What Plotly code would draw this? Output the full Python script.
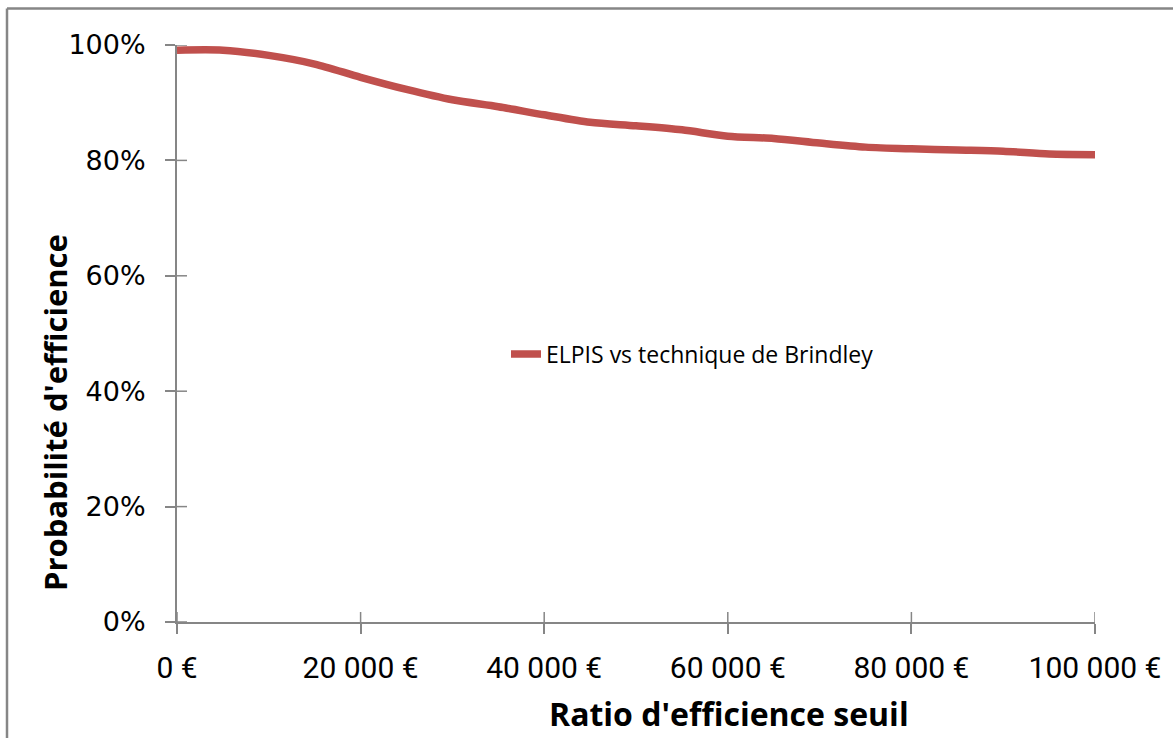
import plotly.graph_objects as go

ratio_seuil = [0, 5000, 10000, 15000, 20000, 25000, 30000, 35000, 40000, 45000, 50000,
               55000, 60000, 65000, 70000, 75000, 80000, 85000, 90000, 95000, 100000]
proba_efficience = [0.991, 0.991, 0.982, 0.967, 0.944, 0.923, 0.905, 0.893, 0.879, 0.866, 0.860,
                    0.853, 0.842, 0.838, 0.830, 0.823, 0.820, 0.818, 0.816, 0.811, 0.810]
series_name = "ELPIS vs technique de Brindley"
x_title = "Ratio d'efficience seuil"
y_title = "Probabilité d'efficience"
x_tick_vals = [0, 20000, 40000, 60000, 80000, 100000]
x_tick_text = ["0 €", "20 000 €", "40 000 €", "60 000 €", "80 000 €", "100 000 €"]
y_tick_vals = [0, 0.2, 0.4, 0.6, 0.8, 1.0]
y_tick_text = ["0%", "20%", "40%", "60%", "80%", "100%"]

W, H = 1173, 738
L, R, T, B = 177, 78, 45, 116
pw, ph = W - L - R, H - T - B
GRAY = "#868686"


def px_x(p):
    return (p - L) / pw


def px_y(p):
    return (H - B - p) / ph


fig = go.Figure()
fig.add_trace(go.Scatter(
    x=ratio_seuil, y=proba_efficience, mode="lines", name=series_name,
    line=dict(color="#C0504D", width=7.5, shape="spline", smoothing=0.8),
    cliponaxis=False,
))

tick_common = dict(showgrid=False, zeroline=False, tickcolor=GRAY, tickwidth=1.5, ticklen=10)

fig.update_layout(
    width=W, height=H,
    margin=dict(l=L, r=R, t=T, b=B, pad=0),
    paper_bgcolor="white", plot_bgcolor="white",
    font=dict(family="Roboto, sans-serif", color="black"),
    xaxis=dict(range=[0, 100000], tickvals=x_tick_vals, ticktext=x_tick_text,
               ticks="outside", tickfont=dict(size=30, family="Roboto, sans-serif"),
               showline=True, linecolor=GRAY, linewidth=2, ticklabelstandoff=8,
               **tick_common),
    yaxis=dict(range=[0, 1], tickvals=y_tick_vals, ticktext=y_tick_text,
               ticks="outside", tickfont=dict(size=27, family="DejaVu Sans, sans-serif"),
               showline=True, linecolor=GRAY, linewidth=2, ticklabelstandoff=14,
               **tick_common),
    showlegend=True,
    legend=dict(x=px_x(506), y=px_y(354), xanchor="left", yanchor="middle",
                bgcolor="rgba(0,0,0,0)", font=dict(size=23, family="Open Sans, sans-serif"),
                tracegroupgap=0),
)

# axis titles (positioned off-centre as in the reference)
fig.add_annotation(text="<b>" + x_title + "</b>", xref="paper", yref="paper",
                   x=px_x(729), y=px_y(737), showarrow=False, xanchor="center", yanchor="bottom",
                   font=dict(size=32, family="Open Sans, sans-serif", color="black"))
fig.add_annotation(text="<b>" + y_title + "</b>", xref="paper", yref="paper",
                   x=px_x(55), y=px_y(412), showarrow=False, xanchor="center", yanchor="middle",
                   textangle=-90, font=dict(size=31, family="Open Sans, sans-serif", color="black"))

# inner half of the crossing tick marks
for v in x_tick_vals:
    fig.add_shape(type="line", xref="x", yref="paper", ysizemode="pixel", yanchor=0,
                  x0=v, x1=v, y0=0, y1=10, line=dict(color=GRAY, width=1.5))
for v in y_tick_vals:
    fig.add_shape(type="line", xref="paper", yref="y", xsizemode="pixel", xanchor=0,
                  x0=0, x1=10, y0=v, y1=v, line=dict(color=GRAY, width=1.5))

# outer chart border (left and top edges visible)
bx = px_x(7)
by = px_y(8.5)
fig.add_shape(type="line", xref="paper", yref="paper", x0=bx, x1=bx, y0=by, y1=-0.5,
              line=dict(color=GRAY, width=2.5))
fig.add_shape(type="line", xref="paper", yref="paper", x0=bx, x1=1.5, y0=by, y1=by,
              line=dict(color=GRAY, width=2.5))

fig.write_html("out.html", config={"displayModeBar": False},
               post_script="document.body.style.margin='0px';document.body.style.overflow='hidden';")
